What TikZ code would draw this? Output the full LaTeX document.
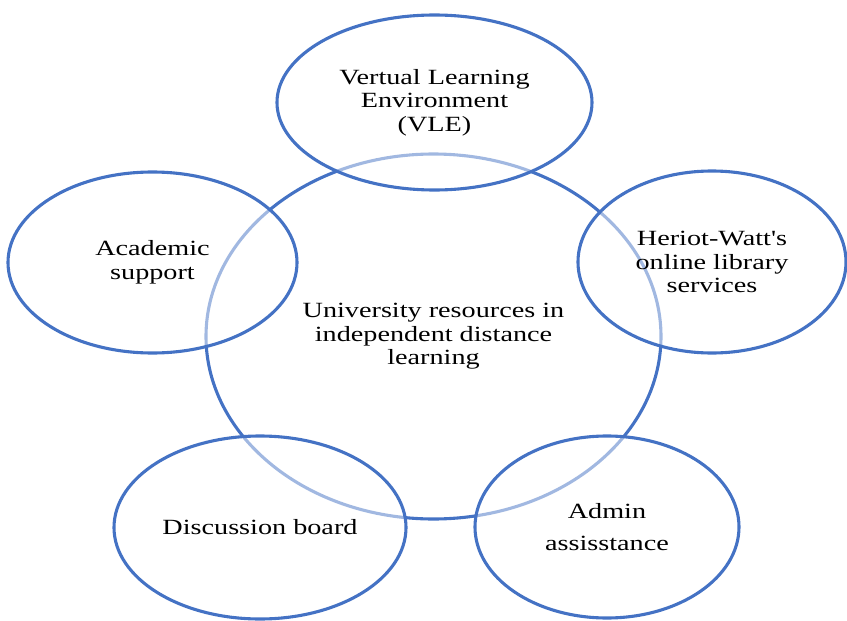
\documentclass[tikz,border=0pt]{standalone}
\usepackage{fontspec}
\setmainfont{Liberation Serif}[FakeStretch=1.3, Ligatures=TeXOff]
\usetikzlibrary{shapes.geometric}
\definecolor{ringblue}{RGB}{68,114,196}
\tikzset{
  ring/.style={ellipse, draw=ringblue, line width=3.1pt, inner sep=0pt, align=center,
    font=\fontsize{21.7pt}{23.5pt}\selectfont},
  outer/.style={ring, fill=white, fill opacity=0.5, text opacity=1}
}
\begin{document}
\begin{tikzpicture}[x=1pt,y=-1pt]
\useasboundingbox (0,0) rectangle (847,621);
\node[ring, minimum width=455pt, minimum height=365pt] (center) at (433.5,336.5)
  {University resources in\\independent distance\\learning};
\node[outer, minimum width=315pt, minimum height=175pt] (vle) at (434.5,102.5)
  {Vertual Learning\\Environment\\(VLE)};
\node[outer, minimum width=289pt, minimum height=181pt] (acad) at (152.5,262.5)
  {Academic\\support};
\node[outer, minimum width=268pt, minimum height=182pt] (lib) at (712,262)
  {Heriot-Watt's\\online library\\services};
\node[outer, minimum width=292pt, minimum height=183pt] (disc) at (260,527.5)
  {Discussion board};
\node[outer, minimum width=264pt, minimum height=182pt] (admin) at (607,527)
  {Admin\\[8pt]assisstance};
\end{tikzpicture}
\end{document}
